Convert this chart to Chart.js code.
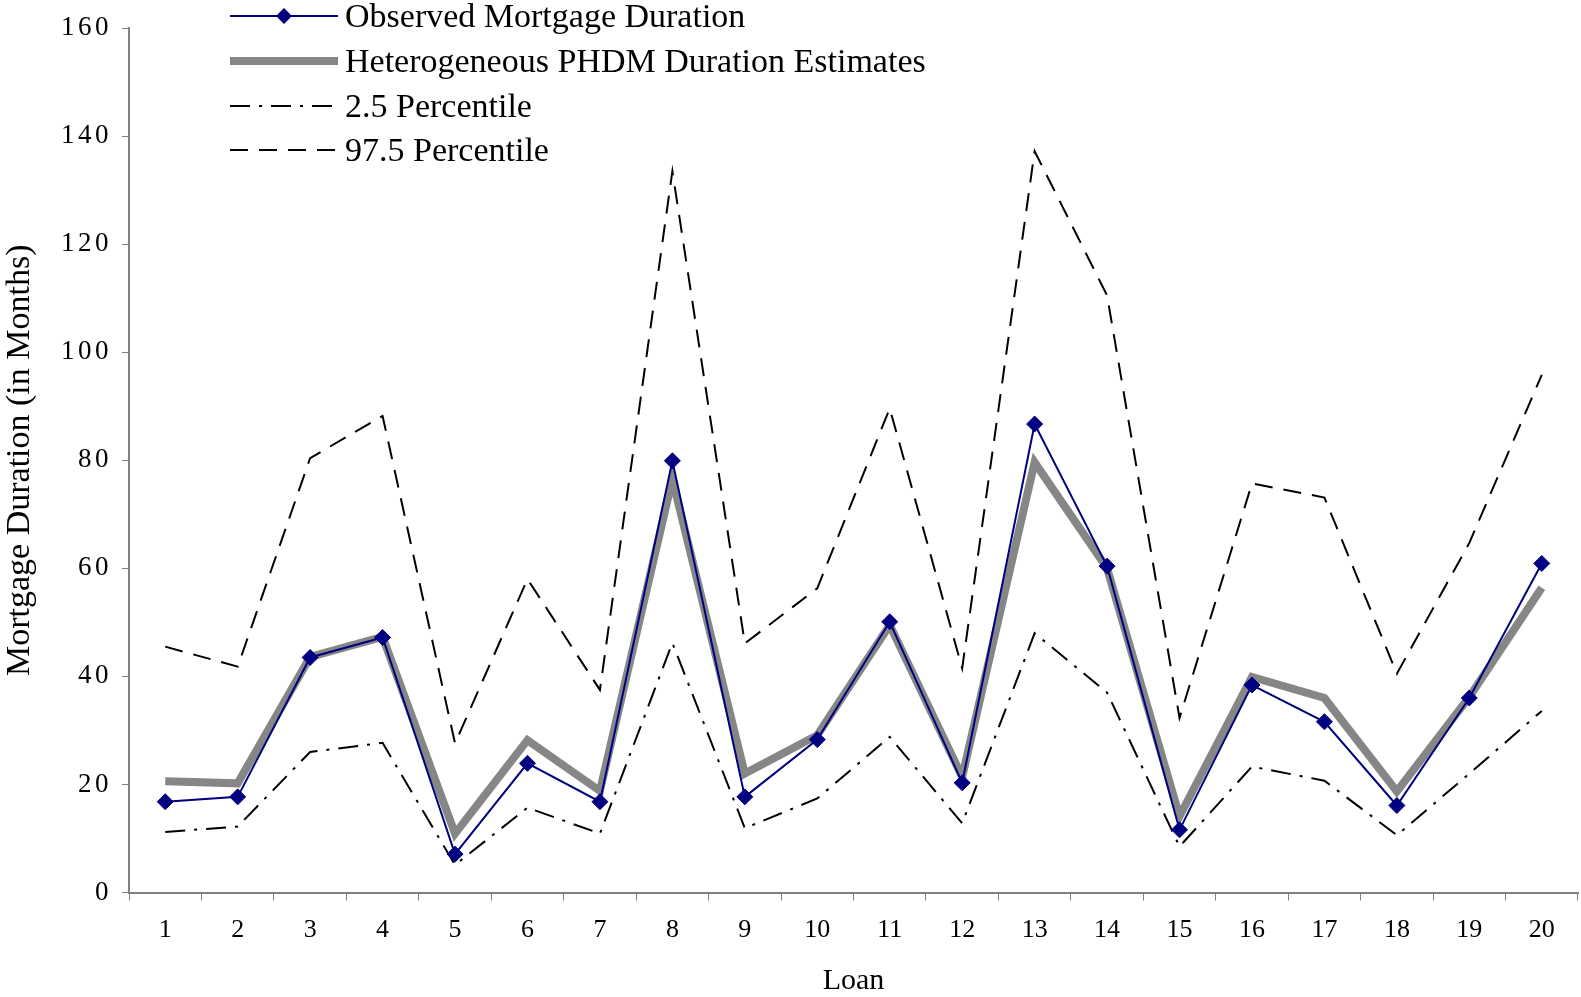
<!DOCTYPE html>
<html><head><meta charset="utf-8">
<script src="https://cdn.jsdelivr.net/npm/chart.js@4.4.1/dist/chart.umd.min.js"></script>
<style>
html,body{margin:0;padding:0;background:#fff;}
#wrap{position:relative;width:1581px;height:997px;overflow:hidden;}
#c{position:absolute;left:0;top:0;}
.row{position:absolute;left:228px;height:34px;line-height:34px;white-space:nowrap;
  font-family:"Liberation Serif","Times New Roman",serif;font-size:34px;color:#000;}
.row svg{position:absolute;left:0;top:0;}
.row span{position:absolute;left:117px;top:0;}
</style></head><body>
<div id="wrap"><canvas id="c" width="1581" height="997"></canvas><div id="leg"></div></div>
<script>
const loans = ['1','2','3','4','5','6','7','8','9','10','11','12','13','14','15','16','17','18','19','20'];
const observed = [16.8, 17.7, 43.5, 47.2, 7.1, 23.9, 16.8, 79.9, 17.7, 28.3, 50.1, 20.3, 86.7, 60.4, 11.6, 38.4, 31.6, 16.1, 36.0, 60.9];
const estimates = [20.6, 20.2, 43.6, 47.3, 10.9, 28.2, 18.8, 76.5, 22.0, 29.1, 49.5, 21.4, 79.6, 60.0, 14.1, 39.9, 36.0, 18.7, 36.2, 56.4];
const pct025 = [11.2, 12.2, 26.0, 27.7, 5.1, 15.7, 10.9, 46.2, 11.9, 17.4, 28.8, 12.8, 48.0, 37.0, 8.5, 23.3, 20.7, 10.6, 22.0, 33.6];
const pct975 = [45.5, 41.8, 80.4, 88.2, 27.6, 58.0, 37.5, 133.5, 46.1, 56.3, 89.6, 41.5, 137.2, 110.5, 32.3, 75.7, 73.1, 40.5, 64.7, 95.8];
const yTicks = [0, 20, 40, 60, 80, 100, 120, 140, 160];

const SERIF = '"Liberation Serif","Times New Roman",serif';
const datasets = [
  {label:'Observed Mortgage Duration', data:observed, borderColor:'#000080', backgroundColor:'#000080',
   borderWidth:2, pointStyle:'rectRot', pointRadius:8, pointBorderWidth:1, pointBorderColor:'#000080', pointBackgroundColor:'#000080', tension:0},
  {label:'Heterogeneous PHDM Duration Estimates', data:estimates, borderColor:'#868686', backgroundColor:'#868686',
   borderWidth:8, pointRadius:0, tension:0},
  {label:'2.5 Percentile', data:pct025, borderColor:'#000', backgroundColor:'#000', borderWidth:2,
   borderDash:[20,9,3,9], pointRadius:0, tension:0},
  {label:'97.5 Percentile', data:pct975, borderColor:'#000', backgroundColor:'#000', borderWidth:2,
   borderDash:[18,11], pointRadius:0, tension:0}
];

// HTML legend built from the datasets
const legCenters = [16, 61, 106, 150];
const leg = document.getElementById('leg');
datasets.forEach((d, i) => {
  const row = document.createElement('div');
  row.className = 'row';
  row.style.top = (legCenters[i] - 17) + 'px';
  let svg = '<svg width="112" height="34" xmlns="http://www.w3.org/2000/svg">';
  const dash = d.borderDash ? ' stroke-dasharray="' + d.borderDash.join(',') + '"' : '';
  svg += '<line x1="2" y1="17" x2="110" y2="17" stroke="' + d.borderColor + '" stroke-width="' + d.borderWidth + '"' + dash + '/>';
  if (d.pointRadius) {
    const r = d.pointRadius, cx = 56;
    svg += '<polygon points="' + (cx - r) + ',17 ' + cx + ',' + (17 - r) + ' ' + (cx + r) + ',17 ' + cx + ',' + (17 + r) + '" fill="' + d.pointBackgroundColor + '"/>';
  }
  svg += '</svg>';
  row.innerHTML = svg + '<span></span>';
  row.querySelector('span').textContent = d.label;
  leg.appendChild(row);
});

const ySpacing = {
  id: 'ySpacing',
  beforeDraw(chart) {
    const s = chart.scales.y;
    if (!s.__patched) {
      s.__patched = true;
      const orig = s.drawLabels;
      s.drawLabels = function (a) {
        const ctx = this.ctx;
        ctx.save();
        try { ctx.letterSpacing = '3.5px'; } catch (e) {}
        orig.call(this, a);
        ctx.restore();
      };
    }
  }
};

new Chart(document.getElementById('c'), {
  type: 'line',
  data: { labels: loans, datasets: datasets },
  plugins: [ySpacing],
  options: {
    responsive: false,
    animation: false,
    devicePixelRatio: 1,
    layout: { autoPadding: false, padding: { left: 0, right: 3, top: 28, bottom: 0 } },
    plugins: { legend: { display: false }, tooltip: { enabled: false } },
    scales: {
      x: {
        offset: true,
        grid: { offset: true, drawOnChartArea: false, tickLength: 8, color: '#808080', lineWidth: 1 },
        border: { color: '#808080', width: 2 },
        ticks: { color: '#000', font: { family: SERIF, size: 26 }, padding: 14, maxRotation: 0, autoSkip: false },
        title: { display: true, text: 'Loan', color: '#000', font: { family: SERIF, size: 30, lineHeight: 1 }, padding: { top: 0, bottom: 1 } },
        afterFit(s) { s.height = 104.5; s.paddingLeft = 0; s.paddingRight = 0; }
      },
      y: {
        min: 0, max: 160,
        afterBuildTicks(s) { s.ticks = yTicks.map(v => ({ value: v })); },
        grid: { drawOnChartArea: false, tickLength: 7, color: '#808080', lineWidth: 1 },
        border: { color: '#808080', width: 2 },
        ticks: { color: '#000', font: { family: SERIF, size: 27 }, padding: 10 },
        title: { display: true, text: 'Mortgage Duration (in Months)', color: '#000', font: { family: SERIF, size: 34, lineHeight: 1 }, padding: { top: 3, bottom: 0 } },
        afterFit(s) { s.width = 129; s.paddingTop = 0; s.paddingBottom = 0; }
      }
    }
  }
});
</script>
</body></html>
